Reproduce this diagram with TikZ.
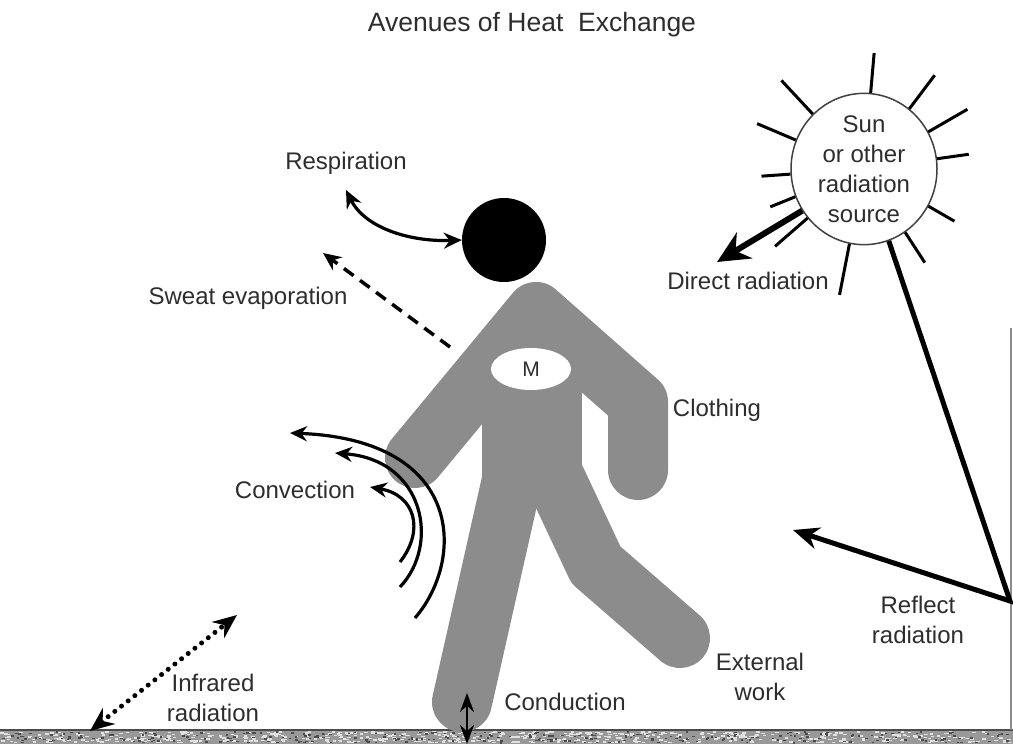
\documentclass[tikz,border=0pt]{standalone}
\usepackage{fontspec}
\setmainfont{Liberation Sans}
\usetikzlibrary{arrows.meta,shapes.geometric}
\definecolor{bodygray}{RGB}{140,140,140}
\definecolor{labelgray}{RGB}{45,45,45}

\begin{document}
\begin{tikzpicture}[x=1pt,y=-1pt,
    lbl/.style={text=labelgray,font=\fontsize{24}{30}\selectfont,align=center,inner sep=0pt},
    ray/.style={line width=3pt},
    limb/.style={bodygray,line width=60pt,line cap=round,line join=round},
    flow/.style={line width=3.2pt,-{Stealth[length=17pt,width=15pt]}}]
  \useasboundingbox (0,0) rectangle (1013,744);

  % ground and wall
  \fill[black!40] (0,730) rectangle (1013,744);
  \pgfmathsetseed{7}
  \foreach \k in {1,...,600}{
    \pgfmathsetmacro{\gx}{rnd*1010}
    \pgfmathsetmacro{\gy}{731+rnd*11}
    \fill[black!12] (\gx,\gy) rectangle ++(3.5,1.5);
  }
  \foreach \k in {1,...,300}{
    \pgfmathsetmacro{\gx}{rnd*1010}
    \pgfmathsetmacro{\gy}{731+rnd*11}
    \fill[black!70] (\gx,\gy) rectangle ++(2.5,1.5);
  }
  \draw[black!70,line width=1.5pt] (0,730) -- (1013,730);
  \draw[black!45,line width=2pt] (1011,328) -- (1011,730);

  \node[lbl,font=\fontsize{26.5}{30}\selectfont] (title) at (532,25) {Avenues of Heat\ \ Exchange};

  % walking figure
  \draw[limb] (415,458) -- (536,312) -- (638,402) -- (638,470);
  \draw[bodygray,line width=100pt] (532,340) -- (532,480);
  \draw[limb] (512,480) -- (462,702);
  \draw[limb] (556,480) -- (596,565) -- (680,638);
  \node[circle,fill=black,minimum size=84pt,inner sep=0pt] (head) at (504,240) {};
  \node[ellipse,fill=white,minimum width=80pt,minimum height=42pt,lbl,font=\fontsize{21}{24}\selectfont] (metab) at (531,369) {M};

  % sun
  \node[ellipse,draw=black!75,line width=1.5pt,fill=white,minimum width=146pt,minimum height=132pt,lbl] (sun) at (864,169) {Sun\\or other\\radiation\\source};
  \foreach \a/\l in {85/40pt,53/42pt,30/45pt,8/32pt,-30/30pt,-57/36pt,-101/52pt,-139/43pt,-158/27pt,-176/29pt,157/42pt,133/46pt}
    \draw[ray] (sun.\a) -- ++(\a:\l);

  \coordinate (direct-end) at (717,262);
  \draw[line width=6pt,-{Stealth[length=32pt,width=30pt]}] (sun.-146) -- (direct-end);
  \coordinate (wall-hit) at (1010,601);
  \coordinate (reflect-end) at (793,530);
  \draw[line width=5pt,-{Stealth[length=26pt,width=22pt]}] (sun.-71) -- (wall-hit) -- (reflect-end);

  % exchange arrows
  \coordinate (resp-end) at (346,190);
  \draw[line width=3.2pt,{Stealth[length=18pt,width=16pt]}-{Stealth[length=18pt,width=16pt]}] (resp-end) .. controls (365,228) and (410,242) .. (head.west);
  \coordinate (sweat-start) at (450,347);
  \coordinate (sweat-end) at (323,253);
  \draw[line width=3.5pt,dash pattern=on 12pt off 8pt,-{Stealth[length=18pt,width=16pt]}] (sweat-start) -- (sweat-end);
  \draw[flow] (400,562) .. controls (425,530) and (415,495) .. (370,487);
  \draw[flow] (400,587) .. controls (440,545) and (425,460) .. (335,453);
  \draw[flow] (415,618) .. controls (465,560) and (465,440) .. (290,433);
  \coordinate (ir-ground) at (90,731);
  \coordinate (ir-up) at (237,615);
  \draw[line width=5pt,line cap=round,dash pattern=on 0pt off 8.5pt,{Stealth[length=24pt,width=20pt]}-{Stealth[length=24pt,width=20pt]}] (ir-ground) -- (ir-up);
  \coordinate (cond-bot) at (467,744);
  \coordinate (cond-top) at (467,693);
  \draw[line width=2.5pt,{Stealth[length=19pt,width=14pt]}-{Stealth[length=19pt,width=14pt]}] (cond-bot) -- (cond-top);

  % labels
  \node[lbl] (resp) at (346,163) {Respiration};
  \node[lbl] (sweat) at (248,298) {Sweat evaporation};
  \node[lbl] (direct) at (748,281) {Direct radiation};
  \node[lbl] (clothing) at (717,410) {Clothing};
  \node[lbl] (convection) at (295,490) {Convection};
  \node[lbl] (reflect) at (918,620) {Reflect\\radiation};
  \node[lbl] (external) at (760,677) {External\\work};
  \node[lbl] (infrared) at (213,698) {Infrared\\radiation};
  \node[lbl] (conduction) at (565,702) {Conduction};
\end{tikzpicture}
\end{document}
